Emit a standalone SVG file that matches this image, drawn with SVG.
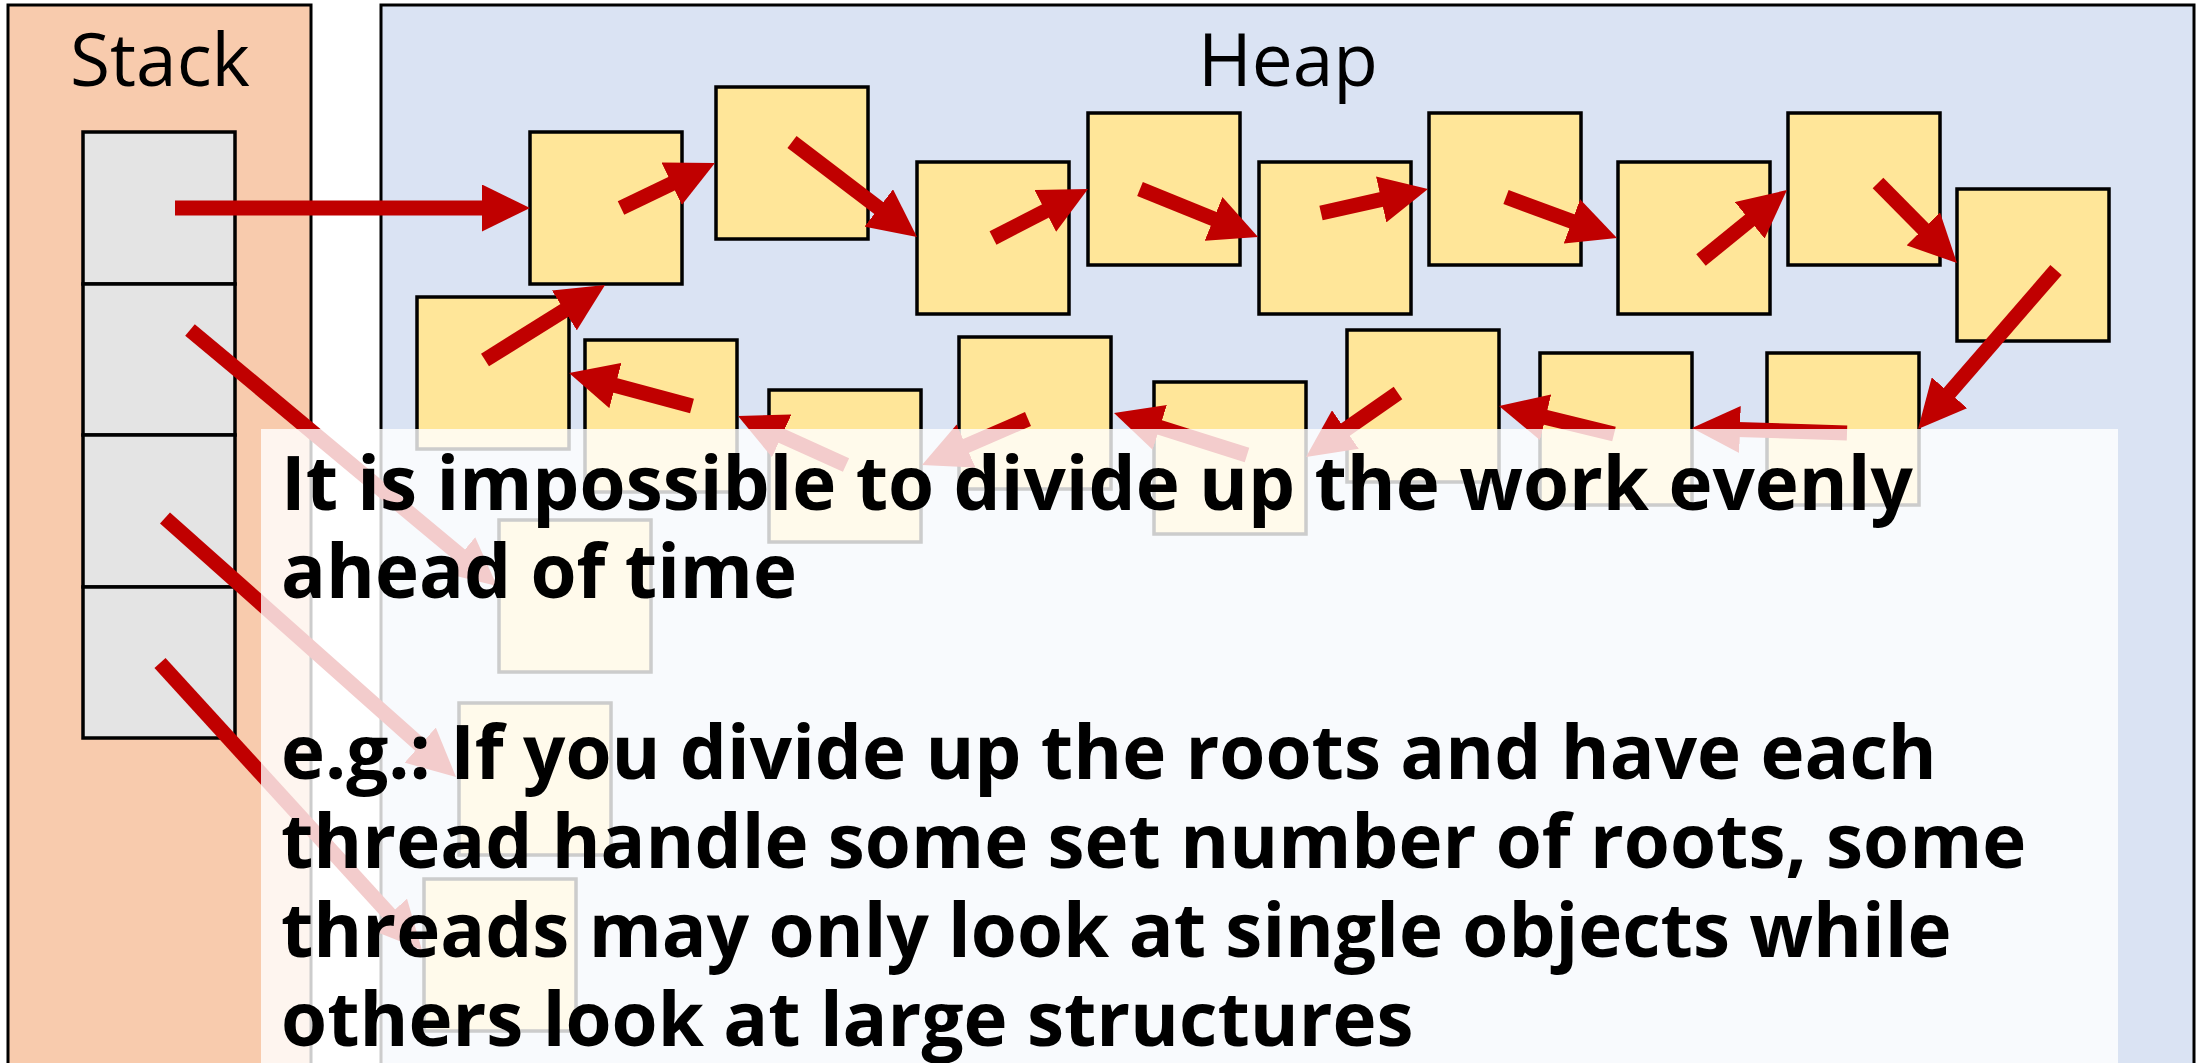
<svg xmlns="http://www.w3.org/2000/svg" width="2200" height="1063" viewBox="0 0 2200 1063">
  <style>
    .panel{stroke:#000;stroke-width:3}
    .cell{fill:#E4E4E4;stroke:#000;stroke-width:3.5}
    .obj{fill:#FFE699;stroke:#000;stroke-width:3.5}
    .arr{stroke:#C00000;stroke-width:15;fill:none;marker-end:url(#ah)}
    .title{font-family:"Open Sans","Noto Sans","DejaVu Sans",sans-serif;font-size:73px;fill:#000}
    .note{font-family:"Open Sans","Noto Sans","DejaVu Sans",sans-serif;font-weight:700;font-size:74.5px;fill:#000}
  </style>
  <defs>
    <marker id="ah" markerUnits="userSpaceOnUse" viewBox="0 0 48 47" markerWidth="48" markerHeight="47" refX="20" refY="23.5" orient="auto">
      <path d="M0,0 L48,23.5 L0,47 z" fill="#C00000"/>
    </marker>
  </defs>
  <rect width="2200" height="1063" fill="#FFFFFF"/>

  <g id="stack">
    <rect class="panel" x="8" y="5" width="303" height="1080" fill="#F8CBAD"/>
    <text class="title" x="160" y="86" text-anchor="middle">Stack</text>
  </g>
  <g id="heap">
    <rect class="panel" x="381" y="5" width="1813" height="1080" fill="#DAE3F3"/>
    <text class="title" x="1288" y="86" text-anchor="middle">Heap</text>
  </g>

  <g id="stack-cells">
    <rect id="cell1" class="cell" x="83" y="132" width="152" height="152"/>
    <rect id="cell2" class="cell" x="83" y="284" width="152" height="151"/>
    <rect id="cell3" class="cell" x="83" y="435" width="152" height="152"/>
    <rect id="cell4" class="cell" x="83" y="587" width="152" height="151"/>
  </g>

  <g id="objects">
    <rect id="obj1" class="obj" x="530" y="132" width="152" height="152"/>
    <rect id="obj2" class="obj" x="716" y="87" width="152" height="152"/>
    <rect id="obj3" class="obj" x="917" y="162" width="152" height="152"/>
    <rect id="obj4" class="obj" x="1088" y="113" width="152" height="152"/>
    <rect id="obj5" class="obj" x="1259" y="162" width="152" height="152"/>
    <rect id="obj6" class="obj" x="1429" y="113" width="152" height="152"/>
    <rect id="obj7" class="obj" x="1618" y="162" width="152" height="152"/>
    <rect id="obj8" class="obj" x="1788" y="113" width="152" height="152"/>
    <rect id="obj9" class="obj" x="1957" y="189" width="152" height="152"/>
    <rect id="obj10" class="obj" x="417" y="297" width="152" height="152"/>
    <rect id="obj11" class="obj" x="585" y="340" width="152" height="152"/>
    <rect id="obj12" class="obj" x="769" y="390" width="152" height="152"/>
    <rect id="obj13" class="obj" x="959" y="337" width="152" height="152"/>
    <rect id="obj14" class="obj" x="1154" y="382" width="152" height="152"/>
    <rect id="obj15" class="obj" x="1347" y="330" width="152" height="152"/>
    <rect id="obj16" class="obj" x="1540" y="353" width="152" height="152"/>
    <rect id="obj17" class="obj" x="1767" y="353" width="152" height="152"/>
    <rect id="obj18" class="obj" x="499" y="520" width="152" height="152"/>
    <rect id="obj19" class="obj" x="459" y="703" width="152" height="152"/>
    <rect id="obj20" class="obj" x="424" y="879" width="152" height="152"/>
  </g>

  <g id="connectors">
    <line class="arr" x1="175" y1="208" x2="502" y2="208"/>
    <line class="arr" x1="621" y1="208" x2="689.7" y2="175.1"/>
    <line class="arr" x1="792" y1="142" x2="894.7" y2="220.1"/>
    <line class="arr" x1="993" y1="238" x2="1063.1" y2="201.8"/>
    <line class="arr" x1="1140" y1="189" x2="1232.1" y2="226.4"/>
    <line class="arr" x1="1321" y1="213" x2="1400.7" y2="195.1"/>
    <line class="arr" x1="1506" y1="197" x2="1590.7" y2="228.3"/>
    <line class="arr" x1="1701" y1="260" x2="1765.3" y2="207.7"/>
    <line class="arr" x1="1878" y1="183" x2="1937.3" y2="243.1"/>
    <line class="arr" x1="2056" y1="270" x2="1936.4" y2="407.9"/>
    <line class="arr" x1="1847" y1="433" x2="1720" y2="428.9"/>
    <line class="arr" x1="1614" y1="434" x2="1526.2" y2="412.6"/>
    <line class="arr" x1="1398" y1="393" x2="1329" y2="441"/>
    <line class="arr" x1="1247" y1="455" x2="1140.7" y2="421.4"/>
    <line class="arr" x1="1028" y1="419" x2="947.7" y2="453.9"/>
    <line class="arr" x1="846" y1="465" x2="763.5" y2="427.6"/>
    <line class="arr" x1="692" y1="406" x2="596.1" y2="380.3"/>
    <line class="arr" x1="485" y1="360" x2="581.3" y2="299.8"/>
    <line class="arr" x1="190" y1="330" x2="475.5" y2="568.1"/>
    <line class="arr" x1="165" y1="518" x2="435.1" y2="758.4"/>
    <line class="arr" x1="160" y1="663" x2="403.1" y2="929.3"/>
  </g>

  <g id="note">
    <rect x="261" y="429" width="1857" height="640" fill="#FFFFFF" fill-opacity="0.8"/>
    <text class="note" x="281">
      <tspan x="281" y="510">It is impossible to divide up the work evenly</tspan>
      <tspan x="281" y="598">ahead of time</tspan>
      <tspan x="281" y="779">e.g.: If you divide up the roots and have each</tspan>
      <tspan x="281" y="868">thread handle some set number of roots, some</tspan>
      <tspan x="281" y="957">threads may only look at single objects while</tspan>
      <tspan x="281" y="1046">others look at large structures</tspan>
    </text>
  </g>
</svg>
